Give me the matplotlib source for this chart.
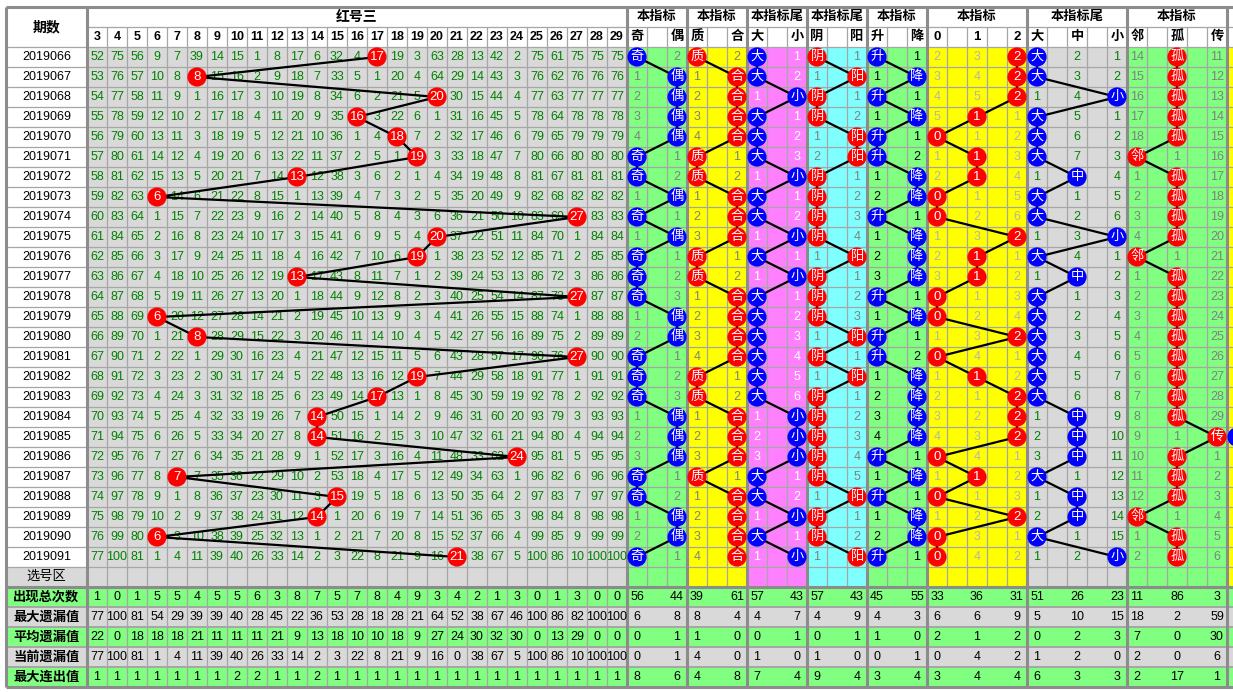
"""Trend chart for 红号三, periods 2019066-2019091, with indicator columns."""

import matplotlib
matplotlib.use("Agg")
import matplotlib.pyplot as plt
from matplotlib.patches import Circle, Rectangle

plt.rcParams["font.family"] = ["Liberation Sans", "Noto Sans CJK SC", "DejaVu Sans"]

# ---- data ----
periods = ["2019066", "2019067", "2019068", "2019069", "2019070", "2019071", "2019072",
           "2019073", "2019074", "2019075", "2019076", "2019077", "2019078", "2019079",
           "2019080", "2019081", "2019082", "2019083", "2019084", "2019085", "2019086",
           "2019087", "2019088", "2019089", "2019090", "2019091"]
numbers = list(range(3, 30))
hits = [17, 8, 20, 16, 18, 19, 13, 6, 27, 20, 19, 13, 27, 6, 8, 27, 19, 17, 14, 14, 24,
        7, 15, 14, 6, 21]
# omission shown in the first row (2019066) for numbers 3..29; 0 = drawn
first_row_miss = [52, 75, 56, 9, 7, 39, 14, 15, 1, 8, 17, 6, 32, 4, 0, 19, 3, 63, 28, 13,
                  42, 2, 75, 61, 75, 75, 75]

stat_labels = ["出现总次数", "最大遗漏值", "平均遗漏值", "当前遗漏值", "最大连出值"]
count_stats = [1, 0, 1, 5, 5, 4, 5, 5, 6, 3, 8, 7, 5, 7, 8, 4, 9, 3, 4, 2, 1, 3, 0, 1, 3, 0, 0]
max_miss_stats = [77, 100, 81, 54, 29, 39, 39, 40, 28, 45, 22, 36, 53, 28, 18, 28, 21, 64, 52,
                  38, 67, 46, 100, 86, 82, 100, 100]
avg_miss_stats = [22, 0, 18, 18, 18, 21, 11, 11, 11, 21, 9, 13, 18, 10, 10, 18, 9, 27, 24, 30,
                  32, 30, 0, 13, 29, 0, 0]
cur_miss_stats = [77, 100, 81, 1, 4, 11, 39, 40, 26, 33, 14, 2, 3, 22, 8, 21, 9, 16, 0, 38, 67,
                  5, 100, 86, 10, 100, 100]
max_run_stats = [1, 1, 1, 1, 1, 1, 1, 2, 2, 1, 1, 2, 1, 1, 1, 1, 1, 1, 1, 1, 1, 1, 1, 1, 1, 1, 1]
number_stats = [count_stats, max_miss_stats, avg_miss_stats, cur_miss_stats, max_run_stats]

parity_seq = "奇偶偶偶偶奇奇偶奇偶奇奇奇偶偶奇奇奇偶偶偶奇奇偶偶奇"
prime_seq = "质合合合合质质合合合质质合合合合质质合合合质合合合合"
tail_size_seq = "大大小大大大小大大小大小大大大大大大小小小大大小大小"
yinyang_seq = "阴阳阴阴阳阳阴阴阴阴阳阴阴阴阳阴阳阴阴阴阴阴阳阴阴阳"
updown_seq = "升降升降升升降降升降降降升降升升降降降降升降升降降升"
mod3_seq = "22210110021100201222010200"
tail3_seq = "大大小大大大中大大小大中大大大大大大中中中大中中大小"
adj_seq = "孤孤孤孤孤邻孤孤孤孤邻孤孤孤孤孤孤孤孤传孤孤孤邻孤孤"

parity_first = {"偶": 2}
prime_first = {"合": 2}
tail_size_first = {"小": 1}
yinyang_first = {"阳": 1}
updown_first = {"降": 1}
mod3_first = {"0": 2, "1": 3}
tail3_first = {"中": 2, "小": 1}
adj_first = {"邻": 14, "传": 11}

parity_stats = [[56, 44], [6, 8], [0, 1], [0, 1], [8, 6]]
prime_stats = [[39, 61], [8, 4], [1, 0], [4, 0], [4, 8]]
tail_size_stats = [[57, 43], [4, 7], [0, 1], [1, 0], [7, 4]]
yinyang_stats = [[57, 43], [4, 9], [0, 1], [1, 0], [9, 4]]
updown_stats = [[45, 55], [4, 3], [1, 0], [0, 1], [3, 4]]
mod3_stats = [[33, 36, 31], [6, 6, 9], [2, 1, 2], [0, 4, 2], [3, 4, 4]]
tail3_stats = [[51, 26, 23], [5, 10, 15], [0, 2, 3], [1, 2, 0], [6, 3, 3]]
adj_stats = [[11, 86, 3], [18, 2, 59], [7, 0, 30], [2, 0, 6], [2, 17, 1]]

# only the first column of the next group is visible; its ball sits in 2019085
next_group_hit_rows = [19]

# ---- styling ----
GREEN = "#80FF80"
YELLOW = "#FFFF00"
PINK = "#FF80FF"
CYAN = "#80FFFF"
LGRAY = "#D9D9D9"
RED = "#FF0000"
BLUE = "#0000FF"
GRID = "#A6A6A6"
BORDER = "#8C8C8C"

groups = [
    dict(title="本指标", labels=["奇", "", "偶"], seq=parity_seq, first=parity_first,
         stats=parity_stats, bg=GREEN, ball=BLUE, fg="#808080"),
    dict(title="本指标", labels=["质", "", "合"], seq=prime_seq, first=prime_first,
         stats=prime_stats, bg=YELLOW, ball=RED, fg="#808080"),
    dict(title="本指标尾", labels=["大", "", "小"], seq=tail_size_seq, first=tail_size_first,
         stats=tail_size_stats, bg=PINK, ball=BLUE, fg="#FFFFFF"),
    dict(title="本指标尾", labels=["阴", "", "阳"], seq=yinyang_seq, first=yinyang_first,
         stats=yinyang_stats, bg=CYAN, ball=RED, fg="#808080"),
    dict(title="本指标", labels=["升", "", "降"], seq=updown_seq, first=updown_first,
         stats=updown_stats, bg=GREEN, ball=BLUE, fg="#000000"),
    dict(title="本指标", labels=["0", "", "1", "", "2"], seq=mod3_seq, first=mod3_first,
         stats=mod3_stats, bg=YELLOW, ball=RED, fg="#B4B4B4"),
    dict(title="本指标尾", labels=["大", "", "中", "", "小"], seq=tail3_seq, first=tail3_first,
         stats=tail3_stats, bg=LGRAY, ball=BLUE, fg="#008000"),
    dict(title="本指标", labels=["邻", "", "孤", "", "传"], seq=adj_seq, first=adj_first,
         stats=adj_stats, bg=GREEN, ball=RED, fg="#808080"),
]

W, H = 1233, 692
CELL = 20
LEFT, DATE_R = 6, 87
TOP, HEAD2, BODY = 7, 27, 47
N = len(periods)
PICK = BODY + N * CELL
STATS = PICK + CELL
BOTTOM = STATS + len(stat_labels) * CELL
NUM_R = DATE_R + len(numbers) * CELL
FS = 9


def omission(seq, options, first):
    """Running omission counts; 0 marks the drawn option."""
    rows, prev = [], None
    for r, h in enumerate(seq):
        row = {}
        for o in options:
            if o == h:
                row[o] = 0
            elif r == 0:
                row[o] = first[o]
            else:
                row[o] = prev[o] + 1
        rows.append(row)
        prev = row
    return rows


def row_y(r):
    return BODY + r * CELL + CELL / 2


fig = plt.figure(figsize=(W / 100, H / 100), dpi=100)
ax = fig.add_axes([0, 0, 1, 1])
ax.set_xlim(0, W)
ax.set_ylim(H, 0)
ax.axis("off")


def rect(x0, y0, w, h, color):
    ax.add_patch(Rectangle((x0, y0), w, h, fc=color, ec="none", zorder=1))


def ball(x, y, label, color):
    ax.add_patch(Circle((x, y), 9.6, fc=color, ec="none", zorder=5))
    ax.text(x, y, label, color="white", ha="center", va="center", fontsize=FS + 0.5, zorder=6)


# ---- backgrounds ----
rect(DATE_R, BODY, NUM_R - DATE_R, (N + 1) * CELL, LGRAY)
rect(LEFT, PICK, DATE_R - LEFT, CELL, LGRAY)
gx = NUM_R
group_x = []
for g in groups:
    group_x.append(gx)
    rect(gx, BODY, len(g["labels"]) * CELL, (N + 1) * CELL, g["bg"])
    gx += len(g["labels"]) * CELL
next_x = gx
rect(next_x, BODY, 5 * CELL, (N + 1) * CELL, YELLOW)
for i in range(len(stat_labels)):
    rect(LEFT, STATS + i * CELL, W - LEFT, CELL, GREEN if i % 2 == 0 else LGRAY)

# ---- grid ----
thin = 0.9
for r in range(N + 2):
    ax.hlines(BODY + r * CELL, LEFT, W, color=GRID, lw=thin, zorder=2)
ax.hlines(HEAD2, DATE_R, W, color=GRID, lw=thin, zorder=2)
for i in range(1, len(stat_labels)):
    ax.hlines(STATS + i * CELL, LEFT, W, color=GRID, lw=1.4, zorder=2)
for k in range(1, len(numbers)):
    ax.vlines(DATE_R + k * CELL, HEAD2, BOTTOM, color=GRID, lw=thin, zorder=2)
for g, x0 in zip(groups, group_x + [next_x]):
    for k in range(1, len(g["labels"])):
        ax.vlines(x0 + k * CELL, HEAD2, PICK + CELL, color=GRID, lw=thin, zorder=2)
for k in range(1, 5):
    ax.vlines(next_x + k * CELL, HEAD2, PICK + CELL, color=GRID, lw=thin, zorder=2)
for x in [LEFT, DATE_R] + group_x + [next_x]:
    ax.vlines(x, TOP, BOTTOM, color=BORDER, lw=2.2, zorder=2.5)
for y in (TOP, STATS, BOTTOM):
    ax.hlines(y, LEFT, W, color=BORDER, lw=2.2, zorder=2.5)

# ---- headers ----
bold = dict(ha="center", va="center", fontweight="bold", zorder=3)
ax.text((LEFT + DATE_R) / 2, (TOP + BODY) / 2, "期数", fontsize=FS + 1, **bold)
ax.text((DATE_R + NUM_R) / 2, (TOP + HEAD2) / 2, "红号三", fontsize=FS + 1, **bold)
for k, n in enumerate(numbers):
    ax.text(DATE_R + k * CELL + CELL / 2, (HEAD2 + BODY) / 2, str(n), fontsize=FS, **bold)
for g, x0 in zip(groups, group_x):
    ax.text(x0 + len(g["labels"]) * CELL / 2, (TOP + HEAD2) / 2, g["title"],
            fontsize=FS + 0.5, **bold)
    for k, lab in enumerate(g["labels"]):
        if lab:
            ax.text(x0 + k * CELL + CELL / 2, (HEAD2 + BODY) / 2, lab, fontsize=FS + 0.5, **bold)

# ---- period labels ----
for r, p in enumerate(periods):
    ax.text((LEFT + DATE_R) / 2, row_y(r), p, ha="center", va="center", fontsize=FS, zorder=3)
ax.text((LEFT + DATE_R) / 2, PICK + CELL / 2, "选号区", ha="center", va="center",
        fontsize=FS + 0.5, zorder=3)

# ---- red number area ----
num_miss = omission(hits, numbers, dict(zip(numbers, first_row_miss)))
num_cx = {n: DATE_R + k * CELL + CELL / 2 for k, n in enumerate(numbers)}
for r, row in enumerate(num_miss):
    for n in numbers:
        if row[n] == 0:
            ball(num_cx[n], row_y(r), str(n), RED)
        else:
            ax.text(num_cx[n], row_y(r), str(row[n]), color="#008000", ha="center",
                    va="center", fontsize=FS, zorder=3)
ax.plot([num_cx[h] for h in hits], [row_y(r) for r in range(N)], color="black", lw=1.6,
        zorder=4, solid_capstyle="round")

# ---- indicator groups ----
for g, x0 in zip(groups, group_x):
    opts = [lab for lab in g["labels"] if lab]
    cx = {lab: x0 + k * CELL + CELL / 2 for k, lab in enumerate(g["labels"]) if lab}
    miss = omission(list(g["seq"]), opts, g["first"])
    for r, row in enumerate(miss):
        for o in opts:
            if row[o] == 0:
                ball(cx[o], row_y(r), o, g["ball"])
            else:
                ax.text(cx[o], row_y(r), str(row[o]), color=g["fg"], ha="center",
                        va="center", fontsize=FS, zorder=3)
    ax.plot([cx[h] for h in g["seq"]], [row_y(r) for r in range(N)], color="black",
            lw=1.6, zorder=4)
    for i, vals in enumerate(g["stats"]):
        for o, v in zip(opts, vals):
            ax.text(cx[o], STATS + i * CELL + CELL / 2, str(v), ha="center", va="center",
                    fontsize=FS, zorder=3)

for r in next_group_hit_rows:
    ball(next_x + CELL / 2, row_y(r), "", BLUE)

# ---- statistics rows ----
for i, (lab, vals) in enumerate(zip(stat_labels, number_stats)):
    y = STATS + i * CELL + CELL / 2
    ax.text((LEFT + DATE_R) / 2, y, lab, fontsize=FS + 0.5, **bold)
    for n, v in zip(numbers, vals):
        ax.text(num_cx[n], y, str(v), ha="center", va="center", fontsize=FS, zorder=3)

fig.savefig("out.png", dpi=100)
